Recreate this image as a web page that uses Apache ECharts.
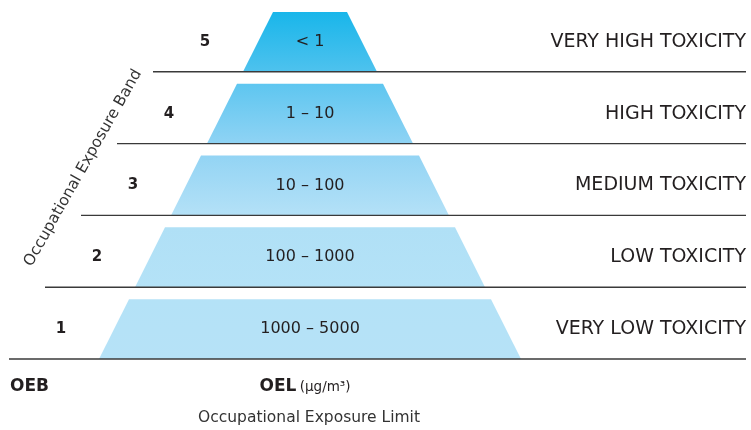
<!DOCTYPE html>
<html>
<head>
<meta charset="utf-8">
<script src="https://cdn.jsdelivr.net/npm/echarts@6/dist/echarts.min.js"></script>
<style>
  html, body { margin: 0; padding: 0; background: #fff; }
  #chart { width: 751px; height: 430px; }
</style>
</head>
<body>
<div id="chart"></div>
<script>
// bands, bottom to top
const bands = [1, 2, 3, 4, 5]
const oelRanges = ['1000 – 5000', '100 – 1000', '10 – 100', '1 – 10', '< 1']
const toxicity = ['VERY LOW TOXICITY', 'LOW TOXICITY', 'MEDIUM TOXICITY', 'HIGH TOXICITY', 'VERY HIGH TOXICITY']

// fill gradient per band (top colour, bottom colour)
const bandColors = [
  ['#b4e2f7', '#b6e2f7'],
  ['#b0e0f6', '#b4e2f7'],
  ['#93d4f4', '#b4e1f7'],
  ['#5ec6f0', '#8fd3f4'],
  ['#19b6ea', '#4ec2ee']
]

const FONT = '"DejaVu Sans", sans-serif'
const TEXT = '#231f20'

// pyramid geometry in axis units
const BASE_HALF = 211
const SLOPE = 36
const FILL = 60 / 72
const halfWidth = v => BASE_HALF - SLOPE * v

const chart = echarts.init(document.getElementById('chart'))

const renderBand = (params, api) => {
  const band = api.value(0)
  const i = band - 1
  const v0 = band - 1
  const v1 = v0 + FILL
  const vm = v0 + FILL / 2
  const bl = api.coord([-halfWidth(v0), v0])
  const br = api.coord([halfWidth(v0), v0])
  const tr = api.coord([halfWidth(v1), v1])
  const tl = api.coord([-halfWidth(v1), v1])
  const lineL = api.coord([-(halfWidth(v0) + 90), v0])
  const lineR = api.coord([436, v0])
  const mid = api.coord([0, vm])
  const num = api.coord([-(halfWidth(vm) + 53), vm])
  const right = api.coord([436, vm])
  return {
    type: 'group',
    children: [
      {
        type: 'polygon',
        shape: { points: [bl, br, tr, tl] },
        style: {
          fill: new echarts.graphic.LinearGradient(0, 0, 0, 1, [
            { offset: 0, color: bandColors[i][0] },
            { offset: 1, color: bandColors[i][1] }
          ])
        }
      },
      {
        type: 'line',
        shape: { x1: lineL[0], y1: lineL[1], x2: lineR[0], y2: lineR[1] },
        style: { stroke: '#3a3a3a', lineWidth: 1.4 }
      },
      {
        type: 'text',
        x: mid[0], y: mid[1],
        style: { text: oelRanges[i], fill: TEXT, font: '16px ' + FONT, align: 'center', verticalAlign: 'middle' }
      },
      {
        type: 'text',
        x: num[0], y: num[1],
        style: { text: String(band), fill: TEXT, font: 'bold 15px ' + FONT, align: 'center', verticalAlign: 'middle' }
      },
      {
        type: 'text',
        x: right[0], y: right[1],
        style: { text: toxicity[i], fill: TEXT, font: '19px ' + FONT, align: 'right', verticalAlign: 'middle' }
      }
    ]
  }
}

const option = {
  animation: false,
  grid: { left: 0, right: 0, top: -1, bottom: 71 },
  xAxis: { type: 'value', min: -310, max: 441, show: false },
  yAxis: { type: 'value', min: 0, max: 5, show: false },
  series: [
    {
      type: 'custom',
      renderItem: renderBand,
      data: bands.map(b => [b]),
      silent: true
    }
  ],
  graphic: [
    {
      type: 'text',
      x: 10, y: 387,
      style: { text: 'OEB', fill: TEXT, font: 'bold 17px ' + FONT, verticalAlign: 'middle' }
    },
    {
      type: 'text',
      x: 305, y: 387,
      style: {
        text: '{b|OEL} {s|(µg/m³)}',
        align: 'center',
        verticalAlign: 'middle',
        rich: {
          b: { fill: TEXT, font: 'bold 17px ' + FONT },
          s: { fill: TEXT, font: '13.5px ' + FONT }
        }
      }
    },
    {
      type: 'text',
      x: 309, y: 418,
      style: { text: 'Occupational Exposure Limit', fill: '#333', font: '15.5px ' + FONT, align: 'center', verticalAlign: 'middle' }
    },
    {
      type: 'text',
      x: 83, y: 168,
      rotation: 60.5 * Math.PI / 180,
      style: { text: 'Occupational Exposure Band', fill: '#333', font: '15.5px ' + FONT, align: 'center', verticalAlign: 'middle' }
    }
  ]
}

chart.setOption(option)
</script>
</body>
</html>
